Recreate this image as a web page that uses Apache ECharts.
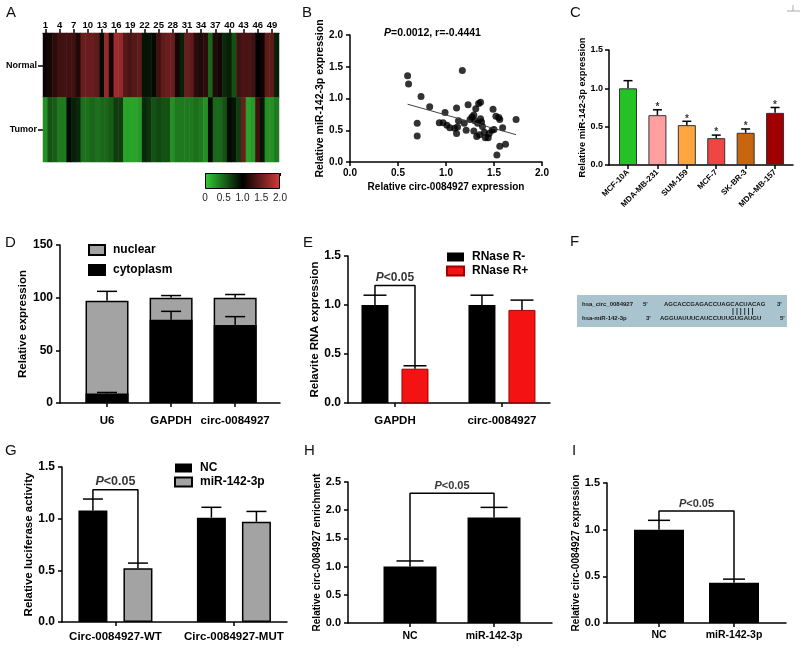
<!DOCTYPE html>
<html><head><meta charset="utf-8">
<script src="https://cdn.jsdelivr.net/npm/echarts@6/dist/echarts.min.js"></script>
<style>html,body{margin:0;padding:0;background:#fff}#c{width:800px;height:647px}</style>
</head><body><div id="c"></div>
<script>
// ================= DATA =================
// A: heatmap
const heatCols = ['1','2','3','4','5','6','7','8','9','10','11','12','13','14','15','16','17','18','19','20','21','22','23','24','25','26','27','28','29','30','31','32','33','34','35','36','37','38','39','40','41','42','43','44','45','46','47','48','49','50'];
const heatRows = ['Tumor','Normal'];
const normalExpr = [1.05,1.1,1.2,1.3,1.3,1.3,1.3,1.15,1.5,1.5,1.5,1.45,0.95,1.7,1.1,1.75,1.7,1.4,1.35,1.4,1.45,0.9,0.9,0.95,1.3,1.45,1.5,1.5,1.1,0.85,1.5,1.45,1.2,1.15,1.2,0.5,1.15,1.1,0.8,0.85,0.6,1.3,1.35,1.35,1.3,1.0,1.05,1.45,1.45,0.85];
const tumorExpr = [0.3,0.6,0.55,0.4,0.4,0.95,0.85,0.8,0.45,0.45,0.5,0.45,0.5,0.5,0.55,0.7,0.7,0.2,0.2,0.2,0.25,0.8,0.75,0.6,0.65,0.6,0.6,0.3,0.4,0.4,0.4,0.4,0.45,0.4,0.3,0.95,0.5,0.5,0.6,0.95,0.9,0.7,1.5,0.2,0.25,1.3,0.9,0.3,0.3,0.4];
const colorbarTicks = [0, 0.5, 1.0, 1.5, 2.0];
// B: scatter
const scatterX = [0.60,0.61,0.74,0.83,0.70,0.70,0.99,0.93,0.97,1.01,1.04,1.09,1.11,1.11,1.12,1.13,1.17,1.19,1.21,1.23,1.25,1.27,1.29,1.30,1.29,1.31,1.33,1.34,1.36,1.36,1.37,1.38,1.32,1.35,1.40,1.41,1.44,1.45,1.48,1.49,1.50,1.52,1.55,1.56,1.59,1.56,1.53,1.62,1.73];
const scatterY = [1.36,1.23,1.03,0.87,0.61,0.41,0.78,0.62,0.62,0.58,0.54,0.53,0.85,0.45,0.55,0.65,1.44,0.61,0.50,0.90,0.67,0.71,0.74,0.65,0.49,0.84,0.61,0.92,0.94,0.68,0.63,0.56,0.40,0.43,0.47,0.38,0.38,0.45,0.50,0.83,0.51,0.72,0.70,0.67,0.54,0.25,0.11,0.28,0.67];
const fitX = [0.60, 1.73];
const fitY = [0.91, 0.43];
const statB = 'P=0.0012, r=-0.4441';
// C: cell lines
const cellLines = ['MCF-10A','MDA-MB-231','SUM-159','MCF-7','SK-BR-3','MDA-MB-157'];
const cellExpr = [1.0,0.65,0.52,0.35,0.42,0.68];
const cellErr = [0.10,0.07,0.05,0.04,0.05,0.07];
const cellSig = [false,true,true,true,true,true];
// D: fractionation
const fracGenes = ['U6','GAPDH','circ-0084927'];
const cytoplasm = [9,79,74];
const cytoErr = [1,8,8];
const nuclear = [88,21,26];
const nuclearErr = [9,2,3];
// E: RNase R
const rnaseGenes = ['GAPDH','circ-0084927'];
const rnaseMinus = [1.0,1.0];
const rnaseMinusErr = [0.10,0.10];
const rnasePlus = [0.35,0.95];
const rnasePlusErr = [0.03,0.10];
const rnaseBracketTop = 1.2;
// G: luciferase
const lucGroups = ['Circ-0084927-WT','Circ-0084927-MUT'];
const lucNC = [1.08,1.01];
const lucNCErr = [0.11,0.10];
const lucMiR = [0.52,0.97];
const lucMiRErr = [0.05,0.10];
const lucBracketTop = 1.28;
// H: RIP
const ripGroups = ['NC','miR-142-3p'];
const ripVals = [1.0,1.87];
const ripErr = [0.10,0.18];
const ripBracketTop = 2.3;
// I: expression
const expGroups = ['NC','miR-142-3p'];
const expVals = [1.0,0.43];
const expErr = [0.10,0.04];
const expBracketTop = 1.2;
const sigText = 'P<0.05';

// ================= STYLE / LAYOUT =================
const FONT = '"Liberation Sans", Arial, Helvetica, sans-serif';
const K = '#000';
const GREEN = '#33cc33', RED = '#d43a3a';
const CELL_COLORS = ['#22c322','#ff9f9f','#ffa640','#f04545','#c8650f','#a10000'];
const GRAY = '#a3a3a3';

const grids = [
  {left:43, top:33, width:236, height:129},   //0 A heat
  {left:205, top:173, width:75, height:16},   //1 A colorbar
  {left:350, top:35, width:192, height:127},  //2 B
  {left:609, top:50, width:184, height:115},  //3 C
  {left:60, top:245, width:220, height:158},  //4 D
  {left:348, top:256, width:202, height:147}, //5 E
  {left:62, top:467, width:225, height:155},  //6 G
  {left:348, top:482, width:204, height:141}, //7 H
  {left:607, top:483, width:179, height:140}  //8 I
].map(g => Object.assign({outerBoundsMode:'none', containLabel:false}, g));

const L = {
  C:{min:0.354, max:6.61},
  D:{min:0.266, max:3.70},
  E:{min:0.561, max:2.449, off:0.187},
  G:{min:0.549, max:2.448, off:0.19},
  H:{min:0.262, max:2.69},
  I:{min:0.307, max:2.693}
};

function yVal(grid, max, interval, name, o) {
  return {
    type:'value', gridIndex:grid, min:0, max, interval,
    name, nameLocation:'middle', nameGap:o.nameGap, nameRotate:90,
    nameTextStyle:{fontFamily:FONT, fontWeight:'bold', fontSize:o.nameSize, color:K},
    axisLine:{show:true, onZero:false, lineStyle:{color:K, width:1.5}},
    axisTick:{show:true, length:4, lineStyle:{color:K, width:1.5}},
    axisLabel:{fontFamily:FONT, fontWeight:'bold', fontSize:o.labelSize, color:K, margin:o.labelMargin || 7,
      formatter:o.fmt || (v => v.toFixed(1))},
    splitLine:{show:false}
  };
}
function xCat(grid, lay, labels, o) {
  const pos = labels.map((_, i) => i + 1);
  return {
    type:'value', gridIndex:grid, min:lay.min, max:lay.max, splitLine:{show:false},
    axisLine:{show:true, onZero:false, lineStyle:{color:K, width:1.5}},
    axisTick:{show:true, customValues:pos, length:4, lineStyle:{color:K, width:1.5}},
    axisLabel:{customValues:pos, formatter:v => labels[Math.round(v) - 1] || '',
      fontFamily:FONT, fontWeight:'bold', fontSize:o.labelSize, color:K, margin:o.labelMargin, rotate:o.rotate || 0}
  };
}

const xAxis = [
  {type:'category', gridIndex:0, position:'top', data:heatCols,
   axisLine:{show:true, lineStyle:{color:K, width:1}},
   axisTick:{show:true, alignWithLabel:true, length:4, lineStyle:{color:K, width:1.5}},
   axisLabel:{interval:(i) => i % 3 === 0, fontFamily:FONT, fontWeight:'bold', fontSize:9.5, color:K, margin:3},
   splitLine:{show:false}},
  {type:'value', gridIndex:1, min:colorbarTicks[0], max:colorbarTicks[colorbarTicks.length-1], interval:0.5,
   axisLine:{show:false}, axisTick:{show:false}, splitLine:{show:false},
   axisLabel:{fontFamily:FONT, fontSize:10, color:'#222', margin:4, formatter:v => v === 0 ? '0' : v.toFixed(1)}},
  {type:'value', gridIndex:2, min:0, max:2, interval:0.5, splitLine:{show:false},
   name:'Relative circ-0084927 expression', nameLocation:'middle', nameGap:20,
   nameTextStyle:{fontFamily:FONT, fontWeight:'bold', fontSize:10, color:K},
   axisLine:{show:true, onZero:false, lineStyle:{color:K, width:1.5}},
   axisTick:{show:true, length:4, lineStyle:{color:K, width:1.5}},
   axisLabel:{fontFamily:FONT, fontWeight:'bold', fontSize:10, color:K, margin:6, formatter:v => v.toFixed(1)}},
  xCat(3, L.C, cellLines, {labelSize:8, labelMargin:6, rotate:45}),
  xCat(4, L.D, fracGenes, {labelSize:11.5, labelMargin:12}),
  xCat(5, L.E, rnaseGenes, {labelSize:11.5, labelMargin:12}),
  xCat(6, L.G, lucGroups, {labelSize:11.5, labelMargin:9}),
  xCat(7, L.H, ripGroups, {labelSize:10.5, labelMargin:8}),
  xCat(8, L.I, expGroups, {labelSize:10.5, labelMargin:7}),
  {type:'value', gridIndex:1, position:'top', min:colorbarTicks[0], max:colorbarTicks[colorbarTicks.length-1], interval:0.5,
   axisLine:{show:false}, axisLabel:{show:false}, splitLine:{show:false},
   axisTick:{show:true, inside:true, length:3, lineStyle:{color:K, width:1}}}
];

const yAxis = [
  {type:'category', gridIndex:0, data:heatRows, axisLine:{show:false},
   axisTick:{show:true, alignWithLabel:true, length:5, lineStyle:{color:K, width:1.5}},
   axisLabel:{fontFamily:FONT, fontWeight:'bold', fontSize:9, color:K, margin:6}},
  {type:'category', gridIndex:1, data:[''], show:false},
  yVal(2, 2, 0.5, 'Relative miR-142-3p expression', {nameGap:22, nameSize:10.5, labelSize:10}),
  yVal(3, 1.5, 0.5, 'Relative miR-142-3p expression', {nameGap:16, nameSize:9.3, labelSize:9, labelMargin:6}),
  yVal(4, 150, 50, 'Relative expression', {nameGap:30, nameSize:11.5, labelSize:12, fmt:v => String(v)}),
  yVal(5, 1.5, 0.5, 'Relavite RNA expression', {nameGap:25, nameSize:11.5, labelSize:12}),
  yVal(6, 1.5, 0.5, 'Relative luciferase activity', {nameGap:27, nameSize:11.5, labelSize:12}),
  yVal(7, 2.5, 0.5, 'Relative circ-0084927 enrichment', {nameGap:21, nameSize:10, labelSize:11}),
  yVal(8, 1.5, 0.5, 'Relative circ-0084927 expression', {nameGap:22, nameSize:10, labelSize:11})
];

// ================= SERIES =================
const series = [];
function errSeries(grid, data, cap) {
  return {type:'custom', xAxisIndex:grid, yAxisIndex:grid, z:4, silent:true,
    encode:{x:0, y:[1,2]}, data,
    renderItem(params, api) {
      const x = api.value(0), p0 = api.coord([x, api.value(1)]), p1 = api.coord([x, api.value(2)]);
      const st = {stroke:K, lineWidth:1.5};
      return {type:'group', children:[
        {type:'line', shape:{x1:p0[0], y1:p0[1], x2:p1[0], y2:p1[1]}, style:st},
        {type:'line', shape:{x1:p1[0]-cap/2, y1:p1[1], x2:p1[0]+cap/2, y2:p1[1]}, style:st}
      ]};
    }};
}
function bar(name, grid, pts, width, itemStyle) {
  return {type:'bar', name, xAxisIndex:grid, yAxisIndex:grid, data:pts, barWidth:width, barGap:'-100%', itemStyle, silent:true};
}
function bracket(grid, x1, y1, x2, y2, top) {
  return {type:'line', xAxisIndex:grid, yAxisIndex:grid, symbol:'none', silent:true, z:4,
    data:[[x1,y1],[x1,top],[x2,top],[x2,y2]], lineStyle:{color:K, width:1.5}};
}
function textMark(grid, x, y, txt, size) {
  return {type:'scatter', xAxisIndex:grid, yAxisIndex:grid, symbolSize:1, silent:true, z:5,
    itemStyle:{color:'rgba(0,0,0,0)'}, data:[[x, y]],
    label:{show:true, position:'top', distance:1, color:K, fontFamily:FONT, fontWeight:'bold', fontSize:size,
      formatter: txt, rich:{i:{fontStyle:'italic', fontWeight:'bold', fontFamily:FONT, fontSize:size, color:K},
                             n:{fontWeight:'bold', fontFamily:FONT, fontSize:size, color:K}}}};
}
const sigFmt = '{i|' + sigText.charAt(0) + '}{n|' + sigText.slice(1) + '}';

// A heatmap
const heatData = [];
normalExpr.forEach((v, i) => heatData.push([i, 1, v]));
tumorExpr.forEach((v, i) => heatData.push([i, 0, v]));
const heatIdx = series.length;
series.push({type:'heatmap', xAxisIndex:0, yAxisIndex:0, data:heatData, silent:true, itemStyle:{borderWidth:0}});
series.push({type:'bar', xAxisIndex:1, yAxisIndex:1, silent:true, barWidth:16,
  data:[colorbarTicks[colorbarTicks.length-1]],
  itemStyle:{borderColor:K, borderWidth:1, color:{type:'linear', x:0, y:0, x2:1, y2:0,
    colorStops:[{offset:0, color:GREEN},{offset:0.5, color:'#000'},{offset:1, color:RED}]}}});

// B scatter
series.push({type:'scatter', xAxisIndex:2, yAxisIndex:2, silent:true, symbolSize:7,
  data:scatterX.map((x, i) => [x, scatterY[i]]), itemStyle:{color:K}});
series.push({type:'line', xAxisIndex:2, yAxisIndex:2, silent:true, symbol:'none',
  data:fitX.map((x, i) => [x, fitY[i]]), lineStyle:{color:'#444', width:1}});

// C bars
series.push(bar('cells', 3, cellExpr.map((v, i) => ({value:[i+1, v], itemStyle:{color:CELL_COLORS[i]}})), 18,
  {borderColor:'#333', borderWidth:1}));
series.push(errSeries(3, cellExpr.map((v, i) => [i+1, v, v + cellErr[i]]), 9));
series.push({type:'scatter', xAxisIndex:3, yAxisIndex:3, symbolSize:1, silent:true, z:5,
  itemStyle:{color:'rgba(0,0,0,0)'},
  data:cellExpr.map((v, i) => [i+1, v + cellErr[i]]).filter((_, i) => cellSig[i]),
  label:{show:true, position:'top', distance:-3, formatter:'*', fontFamily:FONT, fontWeight:'bold', fontSize:10, color:K}});

// D stacked (total drawn, cytoplasm overlaid)
const fracTotal = cytoplasm.map((c, i) => c + nuclear[i]);
series.push(bar('nuclear', 4, fracTotal.map((v, i) => [i+1, v]), 43, {color:GRAY, borderColor:K, borderWidth:1.5}));
series.push(bar('cytoplasm', 4, cytoplasm.map((v, i) => [i+1, v]), 43, {color:K, borderColor:K, borderWidth:1.5}));
series.push(errSeries(4, fracTotal.map((v, i) => [i+1, v, v + nuclearErr[i]]), 20));
series.push(errSeries(4, cytoplasm.map((v, i) => [i+1, v, v + cytoErr[i]]), 20));

// E
const oE = L.E.off;
series.push(bar('RNase R-', 5, rnaseMinus.map((v, i) => [i+1-oE, v]), 27, {color:K}));
series.push(bar('RNase R+', 5, rnasePlus.map((v, i) => [i+1+oE, v]), 27, {color:'#f41212', borderColor:'#a00000', borderWidth:1}));
series.push(errSeries(5, rnaseMinus.map((v, i) => [i+1-oE, v, v + rnaseMinusErr[i]]), 23));
series.push(errSeries(5, rnasePlus.map((v, i) => [i+1+oE, v, v + rnasePlusErr[i]]), 23));
series.push(bracket(5, 1-oE, rnaseMinus[0]+rnaseMinusErr[0], 1+oE, rnasePlus[0]+rnasePlusErr[0], rnaseBracketTop));
series.push(textMark(5, 1, rnaseBracketTop, sigFmt, 12));

// G
const oG = L.G.off;
series.push(bar('NC', 6, lucNC.map((v, i) => [i+1-oG, v]), 29, {color:K}));
series.push(bar('miR-142-3p', 6, lucMiR.map((v, i) => [i+1+oG, v]), 29, {color:GRAY, borderColor:K, borderWidth:1.5}));
series.push(errSeries(6, lucNC.map((v, i) => [i+1-oG, v, v + lucNCErr[i]]), 20));
series.push(errSeries(6, lucMiR.map((v, i) => [i+1+oG, v, v + lucMiRErr[i]]), 20));
series.push(bracket(6, 1-oG, lucNC[0]+lucNCErr[0], 1+oG, lucMiR[0]+lucMiRErr[0], lucBracketTop));
series.push(textMark(6, 1, lucBracketTop, sigFmt, 12.5));

// H
series.push(bar('rip', 7, ripVals.map((v, i) => [i+1, v]), 53, {color:K}));
series.push(errSeries(7, ripVals.map((v, i) => [i+1, v, v + ripErr[i]]), 27));
series.push(bracket(7, 1, ripVals[0]+ripErr[0], 2, ripVals[1]+ripErr[1], ripBracketTop));
series.push(textMark(7, 1.5, ripBracketTop, sigFmt, 11));

// I
series.push(bar('expr', 8, expVals.map((v, i) => [i+1, v]), 50, {color:K}));
series.push(errSeries(8, expVals.map((v, i) => [i+1, v, v + expErr[i]]), 22));
series.push(bracket(8, 1, expVals[0]+expErr[0], 2, expVals[1]+expErr[1], expBracketTop));
series.push(textMark(8, 1.5, expBracketTop, sigFmt, 11));

// ================= GRAPHIC (letters, text panel F) =================
const letters = [['A',6,5],['B',302,5],['C',570,5],['D',5,235],['E',303,235],['F',570,234],['G',5,443],['H',304,443],['I',572,443]];
const graphic = letters.map(([t, x, y]) => ({type:'text', x, y, silent:true,
  style:{text:t, fontFamily:FONT, fontSize:15, fill:'#111'}}));
graphic.push({type:'text', x:384, y:33, silent:true, style:{
  text:'{i|' + statB.charAt(0) + '}{n|' + statB.slice(1) + '}', verticalAlign:'middle',
  rich:{i:{fontStyle:'italic', fontWeight:'bold', fontFamily:FONT, fontSize:10.5, fill:K},
        n:{fontWeight:'bold', fontFamily:FONT, fontSize:10.5, fill:K}}}});
graphic.push({type:'rect', silent:true, shape:{x:577, y:295, width:210, height:32}, style:{fill:'#a9c4ce'}});
const fTexts = [
  ['hsa_circ_0084927', 582, 304], ["5'", 643, 304], ['AGCACCGAGACCUAGCACUACAG', 664, 304], ["3'", 777, 304],
  ['hsa-miR-142-3p', 582, 318], ["3'", 646, 318], ['AGGUAUUUCAUCCUUUGUGAUGU', 660, 318], ["5'", 780, 318]
];
fTexts.forEach(([t, x, y]) => graphic.push({type:'text', x, y, silent:true,
  style:{text:t, fontFamily:FONT, fontWeight:'bold', fontSize:6, fill:'#1a1a1a', verticalAlign:'middle'}}));
graphic.push({type:'text', x:732, y:311, silent:true,
  style:{text:'| | | | | |', fontFamily:FONT, fontWeight:'bold', fontSize:7, fill:'#1a1a1a', verticalAlign:'middle'}});
graphic.push({type:'line', silent:true, shape:{x1:787, y1:11, x2:800, y2:11}, style:{stroke:'#aaa', lineWidth:1}});
graphic.push({type:'line', silent:true, shape:{x1:793, y1:5, x2:793, y2:11}, style:{stroke:'#aaa', lineWidth:1}});

// ================= CHART =================
const legendBase = {orient:'vertical', icon:'rect', itemWidth:17, itemHeight:9, selectedMode:false,
  textStyle:{fontFamily:FONT, fontWeight:'bold', fontSize:12, color:K, padding:[0,0,0,3]}};
const chart = echarts.init(document.getElementById('c'), null, {renderer:'canvas'});
chart.setOption({
  animation:false,
  backgroundColor:'#fff',
  grid:grids,
  xAxis, yAxis, series, graphic,
  visualMap:[{type:'continuous', show:false, min:0, max:2, dimension:2, seriesIndex:[heatIdx],
    inRange:{color:[GREEN, '#000000', RED]}}],
  legend:[
    Object.assign({}, legendBase, {data:['nuclear','cytoplasm'], left:83, top:239, itemGap:8, itemWidth:16, itemHeight:10}),
    Object.assign({}, legendBase, {data:['RNase R-','RNase R+'], left:441, top:246, itemGap:2}),
    Object.assign({}, legendBase, {data:['NC','miR-142-3p'], left:169, top:457, itemGap:2})
  ]
});
</script></body></html>
